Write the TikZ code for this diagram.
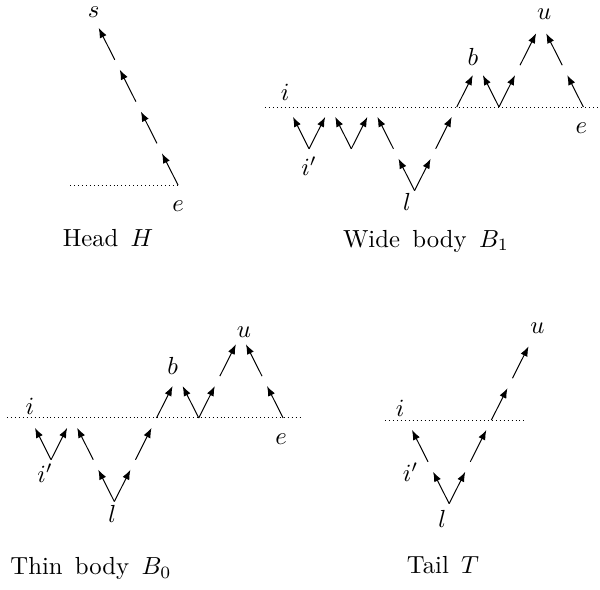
\documentclass[tikz,border=0pt]{standalone}
\usepackage{amsmath,amssymb}
\usepackage{tikz}
\usetikzlibrary{arrows.meta,positioning}

\begin{document}
\begin{tikzpicture}[
  x=0.3cm, y=0.5943cm,
  arrow/.style={-{Latex[length=4pt,width=3pt]}, shorten >=4.5pt},
  level/.style={dash pattern=on 0.4pt off 1.2pt},
  lbl/.style={inner sep=1pt},
  caption/.style={anchor=base, font={\spaceskip=5pt\relax}}
]
\useasboundingbox (0,0) rectangle (28.44,-14.115);

% Head H
\begin{scope}[shift={(8.44,-4.43)}]
\coordinate (h0) at (0,0);
\coordinate (h1) at (-1,1);
\coordinate (h2) at (-2,2);
\coordinate (h3) at (-3,3);
\coordinate (h4) at (-4,4);
\coordinate (hl) at (-5.12,0);
\draw[level] (hl) -- (h0);
\draw[arrow] (h0) -- (h1);
\draw[arrow] (h1) -- (h2);
\draw[arrow] (h2) -- (h3);
\draw[arrow] (h3) -- (h4);
\node[lbl, above=-1pt of h4] (hs) {$s$};
\node[lbl, below=5.3pt of h0] (he) {$e$};
\end{scope}
\node[caption] (headcap) at (5.12,-5.89) {Head $H$};

% Wide body B_1
\begin{scope}[shift={(13.65,-2.56)}]
\coordinate (w0) at (0,0);
\coordinate (w1) at (1,-1);
\coordinate (w2) at (2,0);
\coordinate (w3) at (3,-1);
\coordinate (w4) at (4,0);
\coordinate (w5) at (5,-1);
\coordinate (w6) at (6,-2);
\coordinate (w7) at (7,-1);
\coordinate (w8) at (8,0);
\coordinate (w9) at (9,1);
\coordinate (w10) at (10,0);
\coordinate (w11) at (11,1);
\coordinate (w12) at (12,2);
\coordinate (w13) at (13,1);
\coordinate (w14) at (14,0);
\coordinate (wl) at (-1.09,0);
\coordinate (wr) at (14.79,0);
\draw[level] (wl) -- (wr);
\draw[arrow] (w1) -- (w0);
\draw[arrow] (w1) -- (w2);
\draw[arrow] (w3) -- (w2);
\draw[arrow] (w3) -- (w4);
\draw[arrow] (w5) -- (w4);
\draw[arrow] (w6) -- (w5);
\draw[arrow] (w6) -- (w7);
\draw[arrow] (w7) -- (w8);
\draw[arrow] (w8) -- (w9);
\draw[arrow] (w10) -- (w9);
\draw[arrow] (w10) -- (w11);
\draw[arrow] (w11) -- (w12);
\draw[arrow] (w13) -- (w12);
\draw[arrow] (w14) -- (w13);
\node[lbl, above=1.6pt of w0, xshift=-1.2pt] (wi) {$i$};
\node[lbl, below=1.9pt of w1] (wip) {$i'$};
\node[lbl, below=0pt of w6, xshift=-3pt] (wlo) {$l$};
\node[lbl, above=-1.3pt of w9, xshift=-2pt] (wb) {$b$};
\node[lbl, above=0.5pt of w12, xshift=1.2pt] (wu) {$u$};
\node[lbl, below=5.3pt of w14, xshift=-0.8pt] (we) {$e$};
\end{scope}
\node[caption] (widecap) at (20.19,-5.91) {Wide body $B_1$};

% Thin body B_0
\begin{scope}[shift={(1.42,-10.0)}]
\coordinate (n0) at (0,0);
\coordinate (n1) at (1,-1);
\coordinate (n2) at (2,0);
\coordinate (n3) at (3,-1);
\coordinate (n4) at (4,-2);
\coordinate (n5) at (5,-1);
\coordinate (n6) at (6,0);
\coordinate (n7) at (7,1);
\coordinate (n8) at (8,0);
\coordinate (n9) at (9,1);
\coordinate (n10) at (10,2);
\coordinate (n11) at (11,1);
\coordinate (n12) at (12,0);
\coordinate (nl) at (-1.09,0);
\coordinate (nr) at (12.94,0);
\draw[level] (nl) -- (nr);
\draw[arrow] (n1) -- (n0);
\draw[arrow] (n1) -- (n2);
\draw[arrow] (n3) -- (n2);
\draw[arrow] (n4) -- (n3);
\draw[arrow] (n4) -- (n5);
\draw[arrow] (n5) -- (n6);
\draw[arrow] (n6) -- (n7);
\draw[arrow] (n8) -- (n7);
\draw[arrow] (n8) -- (n9);
\draw[arrow] (n9) -- (n10);
\draw[arrow] (n11) -- (n10);
\draw[arrow] (n12) -- (n11);
\node[lbl, above=0.2pt of n0] (ni) {$i$};
\node[lbl, below=0.3pt of n1, xshift=-2.4pt] (nip) {$i'$};
\node[lbl, below=0.4pt of n4, xshift=-0.8pt] (nlo) {$l$};
\node[lbl, above=-0.5pt of n7, xshift=-2pt] (nb) {$b$};
\node[lbl, above=-2.4pt of n10, xshift=1.2pt] (nu) {$u$};
\node[lbl, below=5.3pt of n12, xshift=-0.8pt] (ne) {$e$};
\end{scope}
\node[caption] (thincap) at (4.31,-13.75) {Thin body $B_0$};

% Tail T
\begin{scope}[shift={(19.29,-10.05)}]
\coordinate (t0) at (0,0);
\coordinate (t1) at (1,-1);
\coordinate (t2) at (2,-2);
\coordinate (t3) at (3,-1);
\coordinate (t4) at (4,0);
\coordinate (t5) at (5,1);
\coordinate (t6) at (6,2);
\coordinate (tl) at (-1.04,0);
\coordinate (tr) at (5.59,0);
\draw[level] (tl) -- (tr);
\draw[arrow] (t1) -- (t0);
\draw[arrow] (t2) -- (t1);
\draw[arrow] (t2) -- (t3);
\draw[arrow] (t3) -- (t4);
\draw[arrow] (t4) -- (t5);
\draw[arrow] (t5) -- (t6);
\node[lbl, above=0.2pt of t0, xshift=-2.8pt] (ti) {$i$};
\node[lbl, left=2.7pt of t1, yshift=-4pt] (tip) {$i'$};
\node[lbl, below=1.5pt of t2, xshift=-2.8pt] (tlo) {$l$};
\node[lbl, above=0pt of t6, xshift=1.6pt] (tu) {$u$};
\end{scope}
\node[caption] (tailcap) at (21.0,-13.73) {Tail $T$};

\end{tikzpicture}
\end{document}
